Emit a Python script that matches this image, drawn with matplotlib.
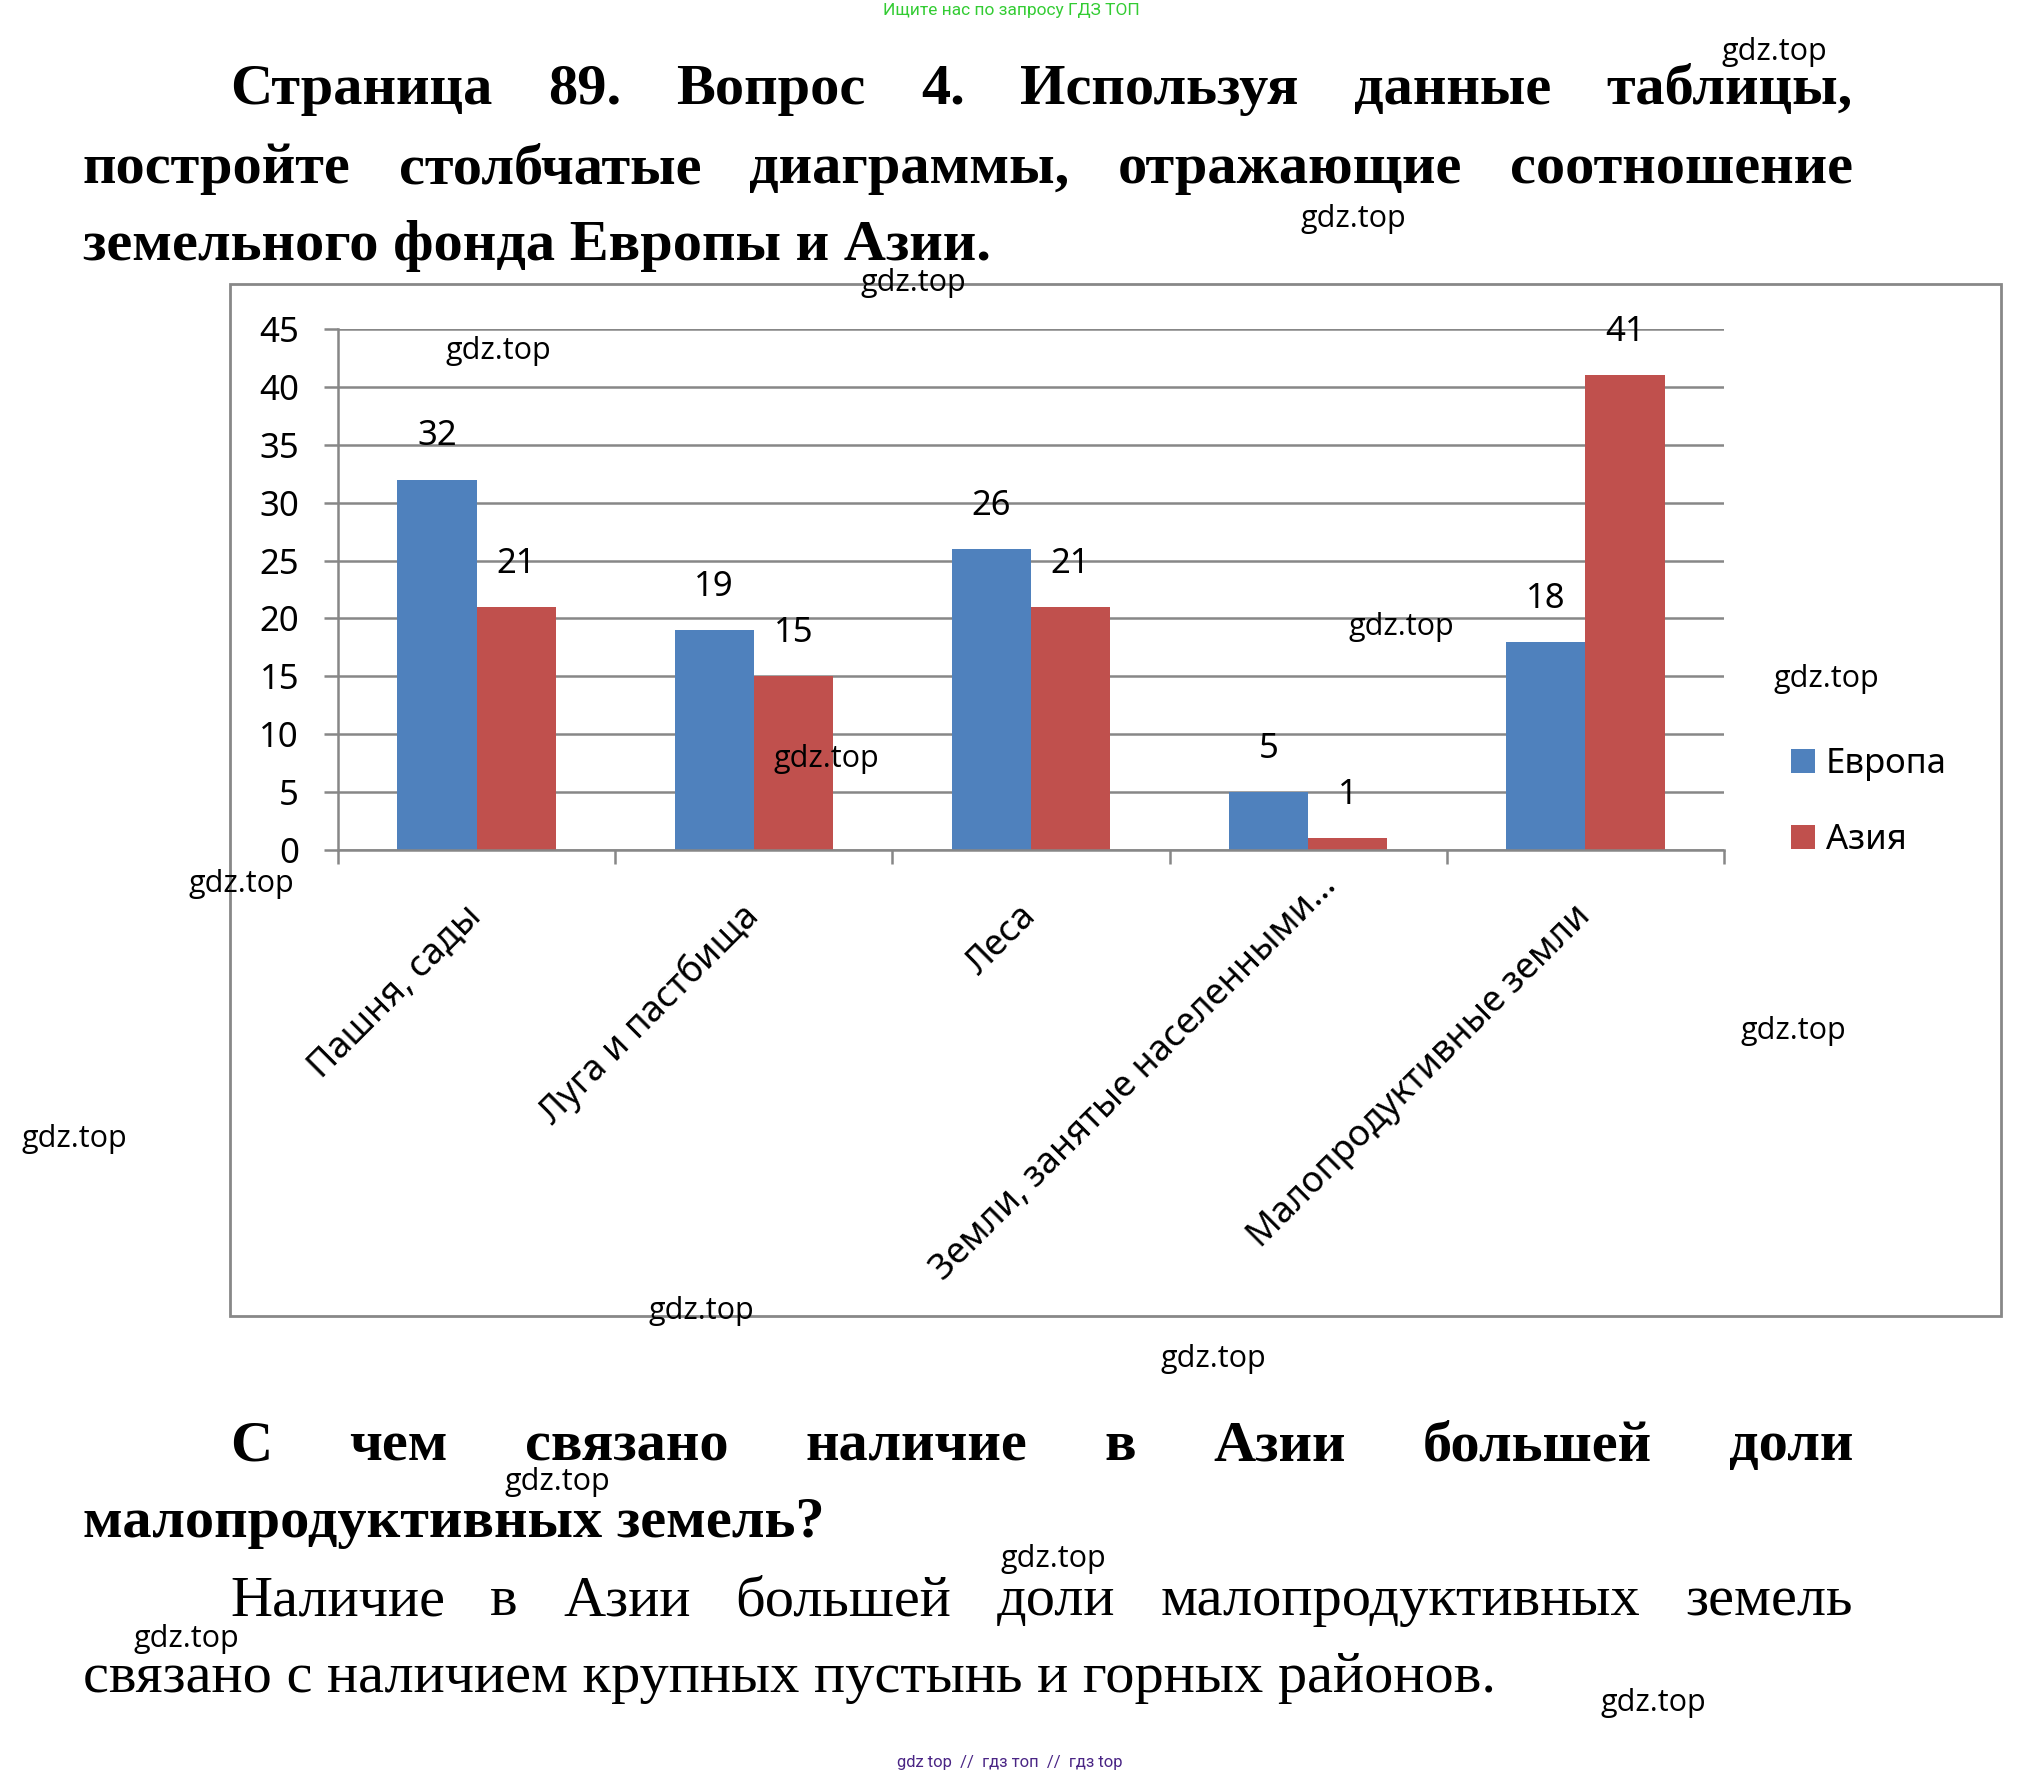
import matplotlib
matplotlib.use("Agg")
import matplotlib.pyplot as plt
import matplotlib.transforms as mtransforms
from matplotlib.patches import Rectangle
import numpy as np

# data
categories = ["Пашня, сады", "Луга и пастбища", "Леса",
              "Земли, занятые населенными…", "Малопродуктивные земли"]
europe = [32, 19, 26, 5, 18]
asia = [21, 15, 21, 1, 41]
series_names = ["Европа", "Азия"]
y_ticks = list(range(0, 50, 5))

title_lines = ["Страница 89. Вопрос 4. Используя данные таблицы,",
               "постройте столбчатые диаграммы, отражающие соотношение",
               "земельного фонда Европы и Азии."]
question_lines = ["С чем связано наличие в Азии большей доли",
                  "малопродуктивных земель?"]
answer_lines = ["Наличие в Азии большей доли малопродуктивных земель",
                "связано с наличием крупных пустынь и горных районов."]
top_note = "Ищите нас по запросу ГДЗ ТОП"
bottom_note = "gdz top  //  гдз топ  //  гдз top"
watermark = "gdz.top"
wm_pos = [(1774, 52), (1353, 219), (913, 283), (498, 351), (1401, 627),
          (1826, 679), (826, 759), (241, 884), (1793, 1031), (74, 1139),
          (701, 1311), (1213, 1359), (557, 1482), (1053, 1559), (186, 1639),
          (1653, 1703)]

W, H = 2023, 1776
fig = plt.figure(figsize=(W / 100, H / 100), dpi=100)
fig.patch.set_facecolor("white")
renderer = fig.canvas.get_renderer()


def put_line(text, x0, x1, y, justify, **kw):
    # y is the baseline in pixels from the top
    words = text.split(" ")
    if not justify:
        fig.text(x0 / W, 1 - y / H, text, va="baseline", ha="left", **kw)
        return
    objs = [fig.text(0, 1 - y / H, w, va="baseline", ha="left", **kw) for w in words]
    widths = [o.get_window_extent(renderer).width for o in objs]
    gap = (x1 - x0 - sum(widths)) / (len(words) - 1)
    x = x0
    for o, w in zip(objs, widths):
        o.set_x(x / W)
        x += w + gap


serif_b = dict(family="Liberation Serif", fontweight="bold", fontsize=42)
serif = dict(family="Liberation Serif", fontsize=42)

put_line(title_lines[0], 230, 1853, 104, True, **serif_b)
put_line(title_lines[1], 83, 1853, 183, True, **serif_b)
put_line(title_lines[2], 83, 1853, 260, False, **serif_b)
put_line(question_lines[0], 230, 1853, 1460, True, **serif_b)
put_line(question_lines[1], 83, 1853, 1537, False, **serif_b)
put_line(answer_lines[0], 230, 1853, 1615, True, **serif)
put_line(answer_lines[1], 83, 1853, 1692, False, **serif)

fig.text(1011 / W, 1 - 11 / H, top_note, ha="center", va="center",
         family="Roboto", fontsize=12.5, color="#33cc33")
fig.text(1010 / W, 1 - 1762 / H, bottom_note, ha="center", va="center",
         family="Roboto", fontsize=12, color="#4a2585")

# chart frame
fig.patches.append(Rectangle((230 / W, 1 - 1316 / H), (2001 - 230) / W, (1316 - 284) / H,
                             transform=fig.transFigure, fill=False,
                             edgecolor="#888888", linewidth=2.0, zorder=0))

grey = "#878787"
ax = fig.add_axes([338 / W, 1 - 850 / H, (1724 - 338) / W, (850 - 329) / H])
ax.set_facecolor("none")
x = np.arange(len(categories))
w = 1 / 3.5
b1 = ax.bar(x - w / 2, europe, w, color="#4F81BD", label=series_names[0], zorder=2)
b2 = ax.bar(x + w / 2, asia, w, color="#C0504D", label=series_names[1], zorder=2)
for xi, v in zip(x, europe):
    ax.annotate(str(v), (xi - w / 2, v), xytext=(0, 31), textcoords="offset points",
                ha="center", va="center", family="Noto Sans", fontsize=25)
for xi, v in zip(x, asia):
    ax.annotate(str(v), (xi + w / 2, v), xytext=(0, 31), textcoords="offset points",
                ha="center", va="center", family="Noto Sans", fontsize=25)

ax.set_xlim(-0.5, len(categories) - 0.5)
ax.set_ylim(0, 45)
ax.set_yticks(y_ticks)
ax.set_yticklabels([str(t) for t in y_ticks], family="Noto Sans", fontsize=25)
ax.yaxis.grid(True, color=grey, linewidth=1.8, zorder=0)
ax.set_axisbelow(True)
ax.tick_params(axis="y", direction="out", length=10, width=1.8, color=grey, pad=18)

ax.set_xticks(np.arange(len(categories) + 1) - 0.5)
ax.set_xticklabels([])
ax.set_xticks(x, minor=True)
ax.set_xticklabels(categories, minor=True, family="Noto Sans", fontsize=26,
                   rotation=45, ha="right", va="center", rotation_mode="anchor")
ax.tick_params(axis="x", which="major", direction="out", length=10, width=1.8, color=grey)
ax.tick_params(axis="x", which="minor", length=0, pad=44)
# the truncated label sits a bit further up-right in the original
lab = ax.get_xticklabels(minor=True)[3]
lab.set_transform(lab.get_transform() +
                  mtransforms.ScaledTranslation(17 / 72, 22 / 72, fig.dpi_scale_trans))

for s in ["top", "right"]:
    ax.spines[s].set_visible(False)
for s in ["left", "bottom"]:
    ax.spines[s].set_color(grey)
    ax.spines[s].set_linewidth(1.8)

fig.legend(handles=[b1, b2], loc="center left", bbox_to_anchor=(1791 / W, 1 - 802 / H),
           frameon=False, borderpad=0, borderaxespad=0, handlelength=0.7, handleheight=0.7,
           handletextpad=0.3, labelspacing=1.2, prop={"family": "Noto Sans", "size": 25})

for (px, py) in wm_pos:
    fig.text(px / W, 1 - py / H, watermark, ha="center", va="center",
             family="Open Sans", fontsize=22, color="black")

fig.savefig("out.png", dpi=100)
